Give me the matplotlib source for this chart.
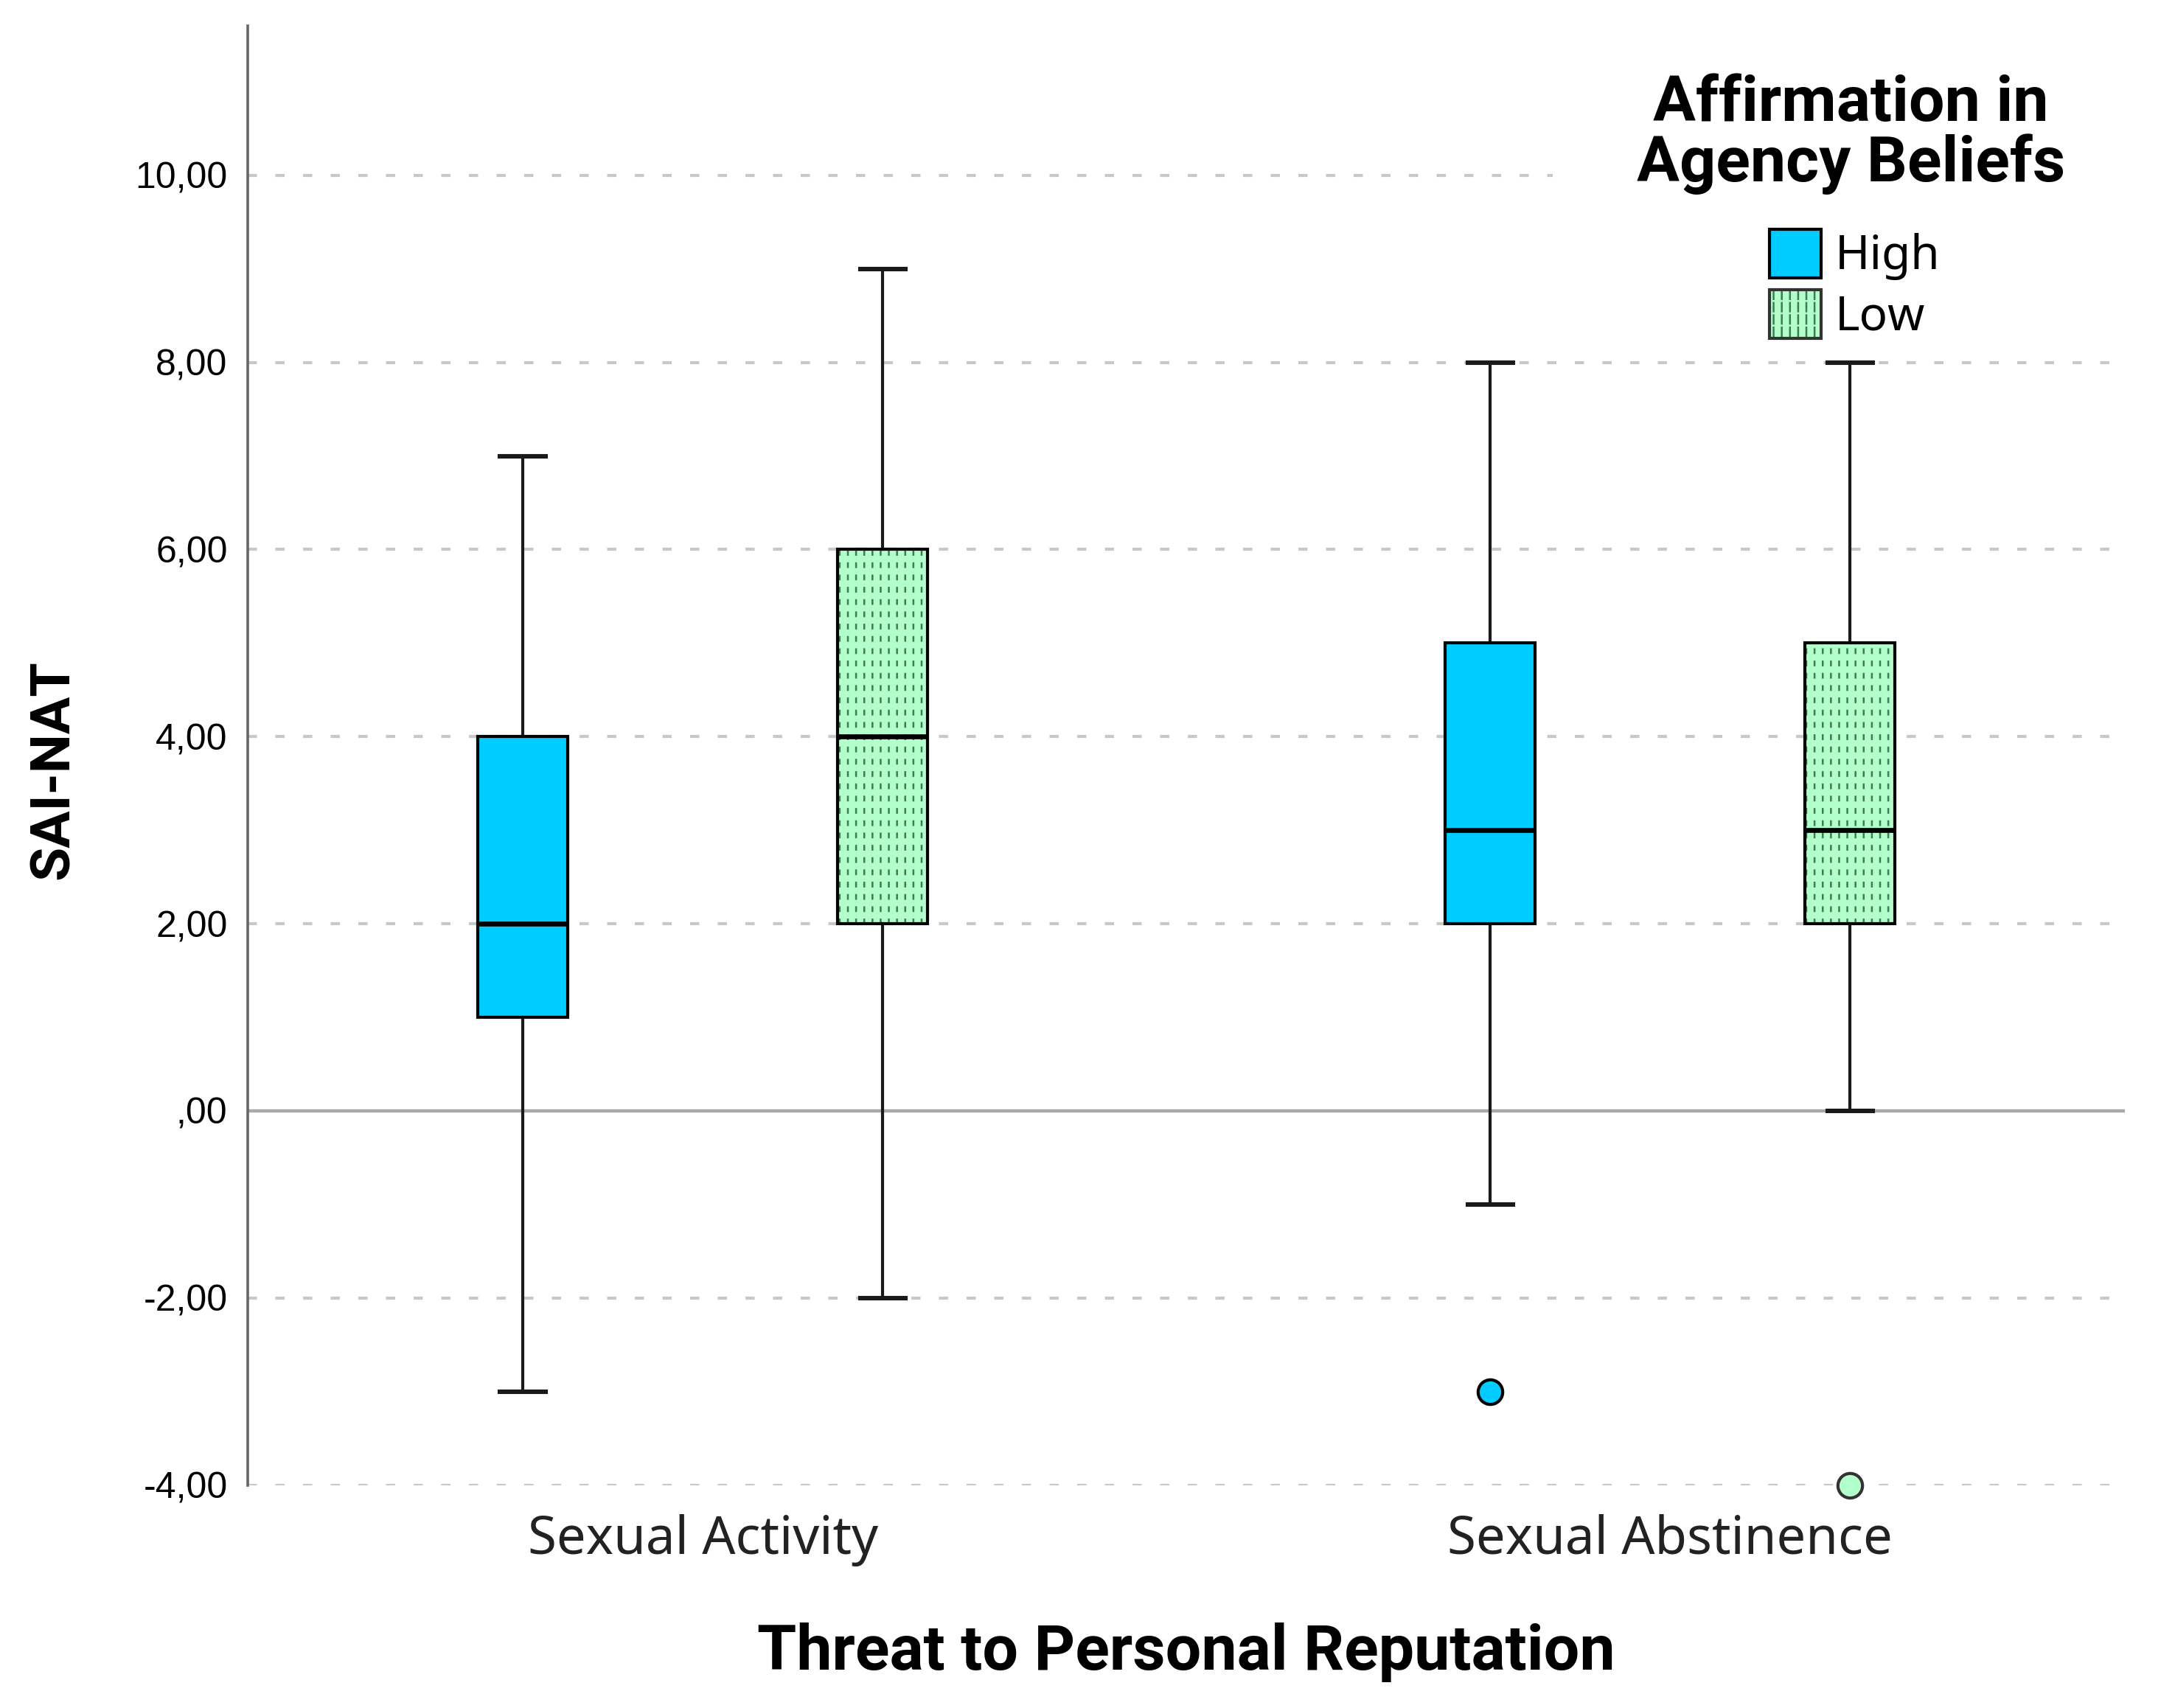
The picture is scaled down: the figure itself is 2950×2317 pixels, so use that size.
import matplotlib
matplotlib.use("Agg")
import matplotlib.pyplot as plt
from matplotlib import font_manager
from matplotlib.patches import Patch
from matplotlib.legend_handler import HandlerTuple

# categories on the x axis and the two affirmation groups
categories = ["Sexual Activity", "Sexual Abstinence"]
groups = ["High", "Low"]
legend_title = "Affirmation in\nAgency Beliefs"

# box summaries, one value per category
high_med = [2, 3]
high_q1 = [1, 2]
high_q3 = [4, 5]
high_wlo = [-3, -1]
high_whi = [7, 8]
high_out = [[], [-3]]

low_med = [4, 3]
low_q1 = [2, 2]
low_q3 = [6, 5]
low_wlo = [-2, 0]
low_whi = [9, 8]
low_out = [[], [-4]]

y_ticks = [-4, -2, 0, 2, 4, 6, 8, 10]
y_tick_labels = ["-4,00", "-2,00", ",00", "2,00", "4,00", "6,00", "8,00", "10,00"]

HIGH_COL = "#00ccff"
LOW_COL = "#b3ffcc"
LOW_HATCH = "#3f7a52"

# a condensed bold face looks closest to the SPSS titles, if there is one
condensed = [f for f in font_manager.fontManager.ttflist
             if f.name == "DejaVu Sans" and f.stretch == "condensed" and f.weight == "bold"]
if condensed:
    BOLD = dict(family="DejaVu Sans", weight="bold", stretch="condensed", size=31)
else:
    BOLD = dict(family="Roboto", weight="bold", size=31)

plt.rcParams["hatch.linewidth"] = 0.9


def make_stats(med, q1, q3, wlo, whi, out):
    return [dict(med=med[i], q1=q1[i], q3=q3[i], whislo=wlo[i], whishi=whi[i],
                 fliers=out[i]) for i in range(len(med))]


def hatch_lw(artists, lw):
    for p in artists:
        if hasattr(p, "set_hatch_linewidth"):
            p.set_hatch_linewidth(lw)


high_stats = make_stats(high_med, high_q1, high_q3, high_wlo, high_whi, high_out)
low_stats = make_stats(low_med, low_q1, low_q3, low_wlo, low_whi, low_out)

fig = plt.figure(figsize=(14.75, 11.585), dpi=200)
ax = fig.add_axes([0.114, 0.1305, 0.863, 0.8545])

offset = 0.186
width = 0.093
pos_high = [i - offset for i in range(len(categories))]
pos_low = [i + offset for i in range(len(categories))]

line_kw = dict(color="#1a1a1a", linewidth=1.5)
common = dict(widths=width, capwidths=width * 0.5, patch_artist=True,
              whiskerprops=line_kw, capprops=dict(color="#1a1a1a", linewidth=2.2),
              medianprops=dict(color="black", linewidth=2.4, zorder=5))

# High boxes
ax.bxp(high_stats, positions=pos_high,
       boxprops=dict(facecolor=HIGH_COL, edgecolor="black", linewidth=1.5, zorder=3),
       flierprops=dict(marker="o", markerfacecolor=HIGH_COL, markeredgecolor="black",
                       markersize=12, markeredgewidth=1.5, clip_on=False),
       **common)

# Low boxes: dashed texture (vertical lines cut by light gaps), then outline
hatch_kw = dict(positions=pos_low, widths=width, patch_artist=True,
                showcaps=False, showfliers=False,
                whiskerprops=dict(linestyle="none"), medianprops=dict(visible=False))
b1 = ax.bxp(low_stats, boxprops=dict(facecolor=LOW_COL, edgecolor=LOW_HATCH,
                                     hatch="|||", linewidth=0, zorder=2), **hatch_kw)
b2 = ax.bxp(low_stats, boxprops=dict(facecolor="none", edgecolor=LOW_COL,
                                     hatch="--", linewidth=0, zorder=2.1), **hatch_kw)
hatch_lw(b1["boxes"], 0.9)
hatch_lw(b2["boxes"], 3.2)
ax.bxp(low_stats, positions=pos_low,
       boxprops=dict(facecolor="none", edgecolor="black", linewidth=1.5, zorder=3),
       flierprops=dict(marker="o", markerfacecolor=LOW_COL, markeredgecolor="#333333",
                       markersize=12, markeredgewidth=1.5, clip_on=False),
       **common)

# grid and zero reference line; the top one stops where the legend sits
for t in y_ticks:
    if t == 0:
        ax.axhline(t, color="#a8a8a8", linewidth=1.6, zorder=1)
    elif t == y_ticks[-1]:
        ax.axhline(t, xmax=0.695, color="#c8c8c8", linewidth=1.5, dashes=(3, 6), zorder=0.5)
    else:
        ax.axhline(t, color="#c8c8c8", linewidth=1.5, dashes=(3, 6), zorder=0.5)

ax.set_xlim(-0.47, 1.47)
ax.set_ylim(-4, 11.6)
ax.set_yticks(y_ticks)
ax.set_yticklabels(y_tick_labels, family="Liberation Sans", fontsize=18)
ax.set_xticks(range(len(categories)))
ax.set_xticklabels(categories, family="Noto Sans", fontsize=25.5, color="#222222")
ax.tick_params(axis="both", length=0)
ax.tick_params(axis="y", pad=10)
ax.tick_params(axis="x", pad=14)

for s in ["top", "right", "bottom"]:
    ax.spines[s].set_visible(False)
ax.spines["left"].set_color("#666666")
ax.spines["left"].set_linewidth(1.3)

ax.set_ylabel("SAI-NAT", fontdict=dict(BOLD, size=27))
ax.yaxis.set_label_coords(-0.0897, 0.49)
ax.set_xlabel("Threat to Personal Reputation", fontdict=BOLD)
ax.xaxis.set_label_coords(0.5, -0.094)

# legend title as its own text so its gap to the entries can match
ax.text(0.854, 0.967, legend_title, transform=ax.transAxes, ha="center", va="top",
        linespacing=1.0, fontdict=BOLD)

high_handle = Patch(facecolor=HIGH_COL, edgecolor="black", linewidth=1.5)
low_handle = (Patch(facecolor=LOW_COL, edgecolor=LOW_HATCH, hatch="|||", linewidth=0),
              Patch(facecolor="none", edgecolor=LOW_COL, hatch="--", linewidth=0),
              Patch(facecolor="none", edgecolor="#333333", linewidth=1.5))
leg = ax.legend([high_handle, low_handle], groups,
                handler_map={tuple: HandlerTuple(ndivide=1)},
                loc="upper center", bbox_to_anchor=(0.856, 0.883),
                prop=dict(family="Noto Sans", size=23),
                frameon=False,
                handlelength=1.1, handleheight=1.2, handletextpad=0.3,
                labelspacing=0.2, borderpad=0.2)
leg.set_zorder(6)

fig.savefig("out.png", dpi=200, facecolor="white")
